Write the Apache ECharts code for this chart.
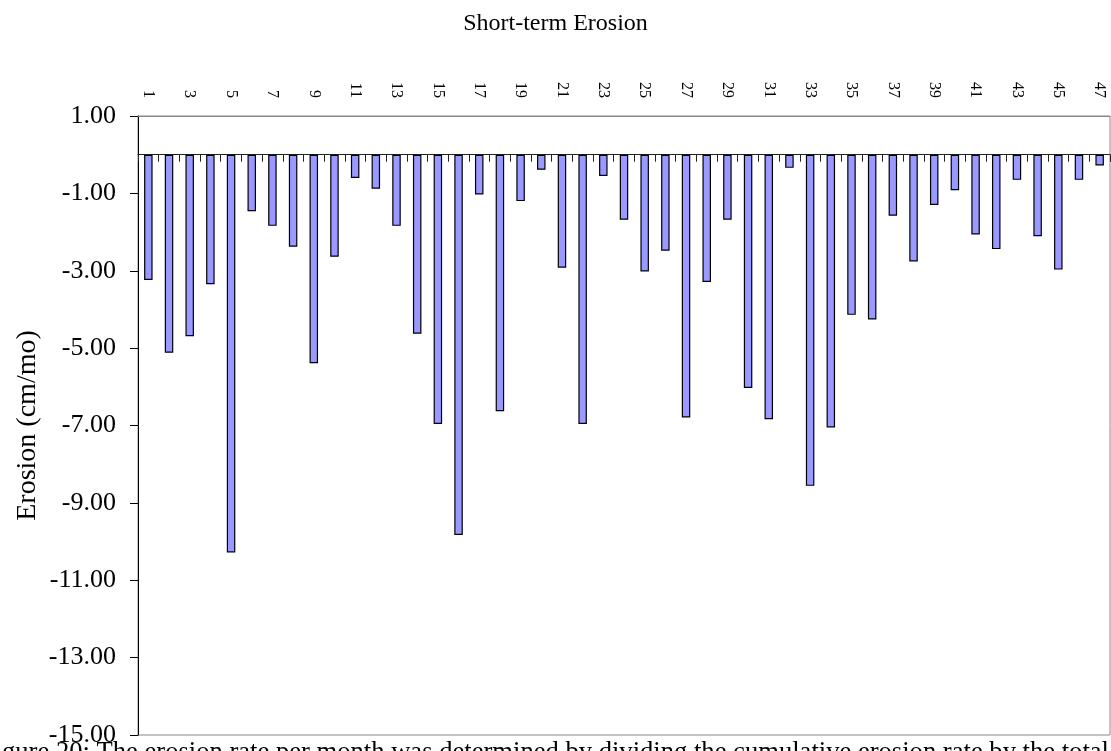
<!DOCTYPE html>
<html>
<head>
<meta charset="utf-8">
<title>Short-term Erosion</title>
<script src="https://cdn.jsdelivr.net/npm/echarts@6/dist/echarts.min.js"></script>
<style>
  html, body { margin: 0; padding: 0; background: #fff; }
  #chart_Erosion { width: 1111px; height: 751px; }
</style>
</head>
<body>
<div id="chart_Erosion"></div>
<script>
var months = ['1', '2', '3', '4', '5', '6', '7', '8', '9', '10', '11', '12', '13', '14', '15', '16',
  '17', '18', '19', '20', '21', '22', '23', '24', '25', '26', '27', '28', '29', '30', '31', '32',
  '33', '34', '35', '36', '37', '38', '39', '40', '41', '42', '43', '44', '45', '46', '47']
var erosionPt = [-3.24, -5.12, -4.69, -3.35, -10.28, -1.46, -1.84, -2.38, -5.39, -2.64, -0.60, -0.88,
  -1.84, -4.63, -6.96, -9.83, -1.03, -6.63, -1.20, -0.39, -2.92, -6.96, -0.55, -1.68,
  -3.02, -2.48, -6.79, -3.29, -1.68, -6.03, -6.84, -0.34, -8.56, -7.05, -4.14, -4.26,
  -1.58, -2.76, -1.30, -0.92, -2.06, -2.44, -0.65, -2.11, -2.97, -0.65, -0.28]
var yTicks = [1, -1, -3, -5, -7, -9, -11, -13, -15]
var titleText = 'Short-term Erosion'
var yName = 'Erosion (cm/mo)'
var captionText = 'Figure 20: The erosion rate per month was determined by dividing the cumulative erosion rate by the total'

var serif = '"Liberation Serif", "DejaVu Serif", serif'
var chartErosion = echarts.init(document.getElementById('chart_Erosion'), null, { renderer: 'canvas' })

var option = {
  animation: false,
  backgroundColor: '#fff',
  title: {
    text: titleText,
    left: 'center',
    top: 7,
    textStyle: { fontFamily: serif, fontSize: 24, fontWeight: 'normal', color: '#000' }
  },
  grid: {
    left: 138,
    right: 1,
    top: 116,
    bottom: 16,
    show: true,
    borderColor: '#888',
    borderWidth: 1
  },
  xAxis: [{
    // line through zero with ticks between the bars
    type: 'category',
    data: months,
    position: 'bottom',
    axisLine: { show: true, onZero: true, lineStyle: { color: '#222', width: 1 } },
    axisTick: { show: true, interval: 0, length: 7, lineStyle: { color: '#222' } },
    axisLabel: { show: false },
    splitLine: { show: false }
  }, {
    // labels along the top edge
    type: 'category',
    data: months,
    position: 'top',
    axisLine: { show: true, onZero: false, lineStyle: { color: '#888' } },
    axisTick: { show: false },
    axisLabel: {
      interval: 1,
      rotate: 90,
      margin: 18,
      fontFamily: serif,
      fontSize: 16,
      color: '#000'
    },
    splitLine: { show: false }
  }],
  yAxis: {
    type: 'value',
    min: -15,
    max: 1,
    name: yName,
    nameLocation: 'middle',
    nameRotate: 90,
    nameGap: 96,
    nameMoveOverlap: false,
    nameTextStyle: { fontFamily: serif, fontSize: 28, color: '#000' },
    axisLine: { show: true, onZero: false, lineStyle: { color: '#000', width: 1 } },
    axisTick: { show: true, length: 8, customValues: yTicks, lineStyle: { color: '#000' } },
    axisLabel: {
      customValues: yTicks,
      margin: 22,
      fontFamily: serif,
      fontSize: 26,
      color: '#000',
      formatter: function(v) { return v.toFixed(2) }
    },
    splitLine: { show: false }
  },
  series: [{
    type: 'bar',
    xAxisIndex: 0,
    data: erosionPt,
    barWidth: 8.5,
    itemStyle: { color: '#9999FF', borderColor: '#000', borderWidth: 1.2 }
  }],
  graphic: [{
    type: 'text',
    right: 2,
    top: 740,
    style: { text: captionText, fontFamily: serif, fontSize: 26.6, fill: '#000' }
  }]
}

chartErosion.setOption(option)
</script>
</body>
</html>
